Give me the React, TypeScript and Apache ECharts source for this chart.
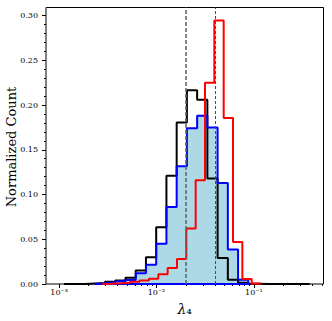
import React, { useEffect, useRef } from 'react';
import * as echarts from 'echarts';

// Bin edges as log10 exponents
const blackEdgesExp = [
  -2.9491, -2.844, -2.7389, -2.6338, -2.5287, -2.4236, -2.3185, -2.2134, -2.1083,
  -2.0032, -1.8981, -1.793, -1.6879, -1.5828, -1.4777, -1.3726, -1.2675, -1.1624,
  -1.0573, -0.9522, -0.8471, -0.742, -0.6369, -0.5318, -0.4267,
];
const blackValues = [
  0, 0, 0.0005, 0.001, 0.0025, 0.004, 0.007, 0.015, 0.03, 0.0635, 0.121, 0.1805,
  0.2166, 0.206, 0.118, 0.029, 0.0047, 0.0015, 0.0003, 0, 0, 0, 0, 0,
];

const blueEdgesExp = [
  -2.6338, -2.5287, -2.4236, -2.3185, -2.2134, -2.1083, -2.0032, -1.8981, -1.793,
  -1.6879, -1.5828, -1.4777, -1.3726, -1.2675, -1.1624, -1.0573,
];
const blueValues = [
  0.0005, 0.0015, 0.003, 0.0045, 0.012, 0.0215, 0.045, 0.086, 0.1315, 0.174, 0.188,
  0.175, 0.113, 0.0386, 0.0047,
];

const redEdgesExp = [
  -2.5569, -2.461, -2.3651, -2.2692, -2.1733, -2.0774, -1.9815, -1.8856, -1.7897,
  -1.6938, -1.5979, -1.5021, -1.4062, -1.3103, -1.2144, -1.1185, -1.0226, -0.9267,
];
const redValues = [
  0.0003, 0.0008, 0.0015, 0.0025, 0.004, 0.006, 0.011, 0.018, 0.028, 0.062, 0.116,
  0.2248, 0.2944, 0.1856, 0.0468, 0.0055, 0.0005,
];

const blackMedian = 0.0235;
const redMedian = 0.0402;

const xMajorTicks = [0.001, 0.01, 0.1];
const xMinorTicks = [
  0.002, 0.003, 0.004, 0.005, 0.006, 0.007, 0.008, 0.009,
  0.02, 0.03, 0.04, 0.05, 0.06, 0.07, 0.08, 0.09,
  0.2, 0.3, 0.4, 0.5,
];
const yMajorTicks = [0, 0.05, 0.1, 0.15, 0.2, 0.25, 0.3];
const yMinorTicks = [
  0.01, 0.02, 0.03, 0.04, 0.06, 0.07, 0.08, 0.09, 0.11, 0.12, 0.13, 0.14,
  0.16, 0.17, 0.18, 0.19, 0.21, 0.22, 0.23, 0.24, 0.26, 0.27, 0.28, 0.29,
];

const yAxisTitle = 'Normalized Count';

const X_MIN = Math.pow(10, -3.1345);
const X_MAX = Math.pow(10, -0.2854);
const Y_MAX = 0.309;

const FONT = 'DejaVu Serif';

function stepPoints(edgesExp: number[], values: number[], close = false) {
  const e = edgesExp.map((v) => Math.pow(10, v));
  const pts: number[][] = [[e[0], 0]];
  values.forEach((v, i) => {
    pts.push([e[i], v]);
    pts.push([e[i + 1], v]);
  });
  pts.push([e[e.length - 1], 0]);
  if (close) pts.push([e[0], 0]);
  return pts;
}

const SUP: Record<string, string> = {
  '-': '\u207B', '0': '\u2070', '1': '\u00B9', '2': '\u00B2', '3': '\u00B3',
  '4': '\u2074', '5': '\u2075', '6': '\u2076', '7': '\u2077', '8': '\u2078', '9': '\u2079',
};
function logLabel(v: number) {
  const e = Math.round(Math.log10(v));
  return '10' + String(e).split('').map((c) => SUP[c] || c).join('');
}

export default function App() {
  const ref = useRef<HTMLDivElement>(null);
  useEffect(() => {
    if (!ref.current) return;
    const chart = echarts.init(ref.current, undefined, { renderer: 'svg' });
    const baseX = {
      type: 'log' as const,
      logBase: 10,
      min: X_MIN,
      max: X_MAX,
      position: 'bottom' as const,
      gridIndex: 0,
      axisLine: { show: false },
      splitLine: { show: false },
    };
    const baseY = {
      type: 'value' as const,
      min: 0,
      max: Y_MAX,
      position: 'left' as const,
      gridIndex: 0,
      axisLine: { show: false },
      splitLine: { show: false },
    };
    chart.setOption({
      animation: false,
      grid: {
        left: 46,
        right: 8.5,
        top: 7.5,
        bottom: 37,
        containLabel: false,
        outerBoundsMode: 'none',
        show: true,
        borderColor: '#000',
        borderWidth: 1,
        backgroundColor: 'transparent',
      },
      graphic: [
        {
          type: 'text',
          x: 11,
          y: 147,
          rotation: Math.PI / 2,
          silent: true,
          style: {
            text: yAxisTitle,
            fontFamily: FONT,
            fontSize: 13,
            fill: '#000',
            align: 'center',
            verticalAlign: 'middle',
          },
        },
      ],
      xAxis: [
        {
          ...baseX,
          axisTick: { show: true, length: 4, lineStyle: { color: '#000', width: 1 }, customValues: xMajorTicks },
          axisLabel: {
            customValues: xMajorTicks,
            formatter: (v: number) => logLabel(v),
            fontFamily: FONT,
            fontSize: 8,
            color: '#000',
            margin: 4,
          },
          name: '{l|\u03BB}{s|\u2084}',
          nameLocation: 'middle',
          nameGap: 18,
          nameTextStyle: {
            rich: {
              l: { fontFamily: FONT, fontStyle: 'italic', fontSize: 14, color: '#000' },
              s: { fontFamily: FONT, fontSize: 14, color: '#000' },
            },
          },
        },
        {
          ...baseX,
          axisTick: { show: true, length: 2, lineStyle: { color: '#000', width: 1 }, customValues: xMinorTicks },
          axisLabel: { show: false },
        },
      ],
      yAxis: [
        {
          ...baseY,
          axisTick: { show: true, length: 4, lineStyle: { color: '#000', width: 1 }, customValues: yMajorTicks },
          axisLabel: {
            customValues: yMajorTicks,
            formatter: (v: number) => v.toFixed(2),
            fontFamily: FONT,
            fontSize: 8,
            color: '#000',
            margin: 8,
          },
        },
        {
          ...baseY,
          axisTick: { show: true, length: 2, lineStyle: { color: '#000', width: 1 }, customValues: yMinorTicks },
          axisLabel: { show: false },
        },
      ],
      series: [
        {
          type: 'line',
          xAxisIndex: 0,
          yAxisIndex: 0,
          data: stepPoints(blueEdgesExp, blueValues),
          symbol: 'none',
          lineStyle: { width: 0 },
          areaStyle: { color: '#add8e6', opacity: 1 },
          silent: true,
          z: 1,
        },
        {
          type: 'line',
          xAxisIndex: 0,
          yAxisIndex: 0,
          data: stepPoints(blackEdgesExp, blackValues),
          symbol: 'none',
          lineStyle: { width: 2, color: '#000' },
          silent: true,
          z: 2,
          markLine: {
            silent: true,
            symbol: ['none', 'none'],
            label: { show: false },
            lineStyle: { color: '#606060', width: 1.5, type: [4, 2] },
            data: [{ xAxis: blackMedian }],
          },
        },
        {
          type: 'line',
          xAxisIndex: 0,
          yAxisIndex: 0,
          data: stepPoints(blueEdgesExp, blueValues, true),
          symbol: 'none',
          lineStyle: { width: 2, color: '#0000ff' },
          silent: true,
          z: 3,
        },
        {
          type: 'line',
          xAxisIndex: 0,
          yAxisIndex: 0,
          data: stepPoints(redEdgesExp, redValues),
          symbol: 'none',
          lineStyle: { width: 2, color: '#ff0000' },
          silent: true,
          z: 4,
          markLine: {
            silent: true,
            symbol: ['none', 'none'],
            label: { show: false },
            lineStyle: { color: '#ff0000', width: 1, type: [3, 2] },
            data: [{ xAxis: redMedian }],
          },
        },
      ],
    });
    return () => chart.dispose();
  }, []);
  return <div ref={ref} style={{ width: 332, height: 321, position: 'absolute', left: 0, top: 0 }} />;
}
